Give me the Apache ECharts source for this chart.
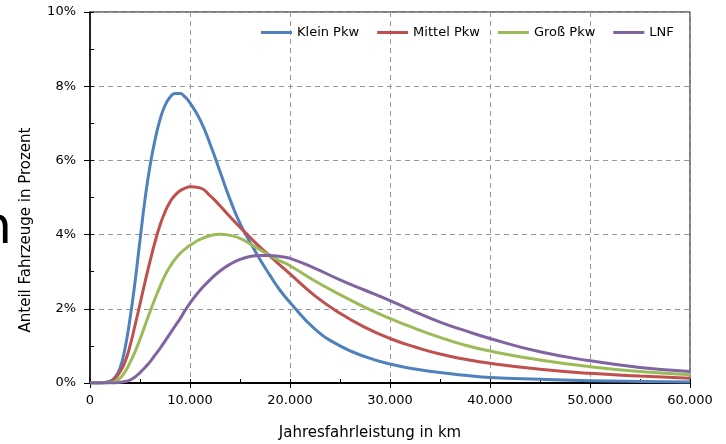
<!DOCTYPE html>
<html>
<head>
<meta charset="utf-8">
<script src="https://cdn.jsdelivr.net/npm/echarts@6/dist/echarts.min.js"></script>
<style>
  html, body { margin: 0; padding: 0; background: #fff; }
  #chart { width: 726px; height: 444px; }
</style>
</head>
<body>
<div id="chart"></div>
<script>
// Jahresfahrleistung in km (x positions of the read-off points)
const km = [0, 1000, 2000, 2500, 3000, 3500, 4000, 4500, 5000, 5500, 6000, 6500, 7000, 7500, 8000, 8500, 9000, 9500, 10000,
  11000, 12000, 13000, 14000, 15000, 16000, 17000, 18000, 19000, 20000, 22500, 25000, 27500, 30000, 32500, 35000, 37500,
  40000, 45000, 50000, 55000, 60000];

// Anteil in Prozent
const kleinPkw = [0, 0, 0.05, 0.15, 0.4, 0.93, 1.73, 2.72, 3.85, 4.95, 5.85, 6.55, 7.1, 7.48, 7.7, 7.8, 7.8, 7.71, 7.55,
  7.1, 6.45, 5.7, 4.95, 4.3, 3.8, 3.33, 2.9, 2.5, 2.17, 1.45, 1.0, 0.71, 0.51, 0.38, 0.28, 0.21,
  0.15, 0.1, 0.06, 0.04, 0.03];
const mittelPkw = [0, 0, 0.02, 0.12, 0.3, 0.57, 1.0, 1.55, 2.13, 2.72, 3.28, 3.8, 4.25, 4.61, 4.88, 5.06, 5.18, 5.25, 5.29,
  5.26, 5.05, 4.78, 4.48, 4.2, 3.93, 3.66, 3.42, 3.18, 2.94, 2.35, 1.88, 1.5, 1.2, 0.97, 0.78, 0.64,
  0.53, 0.37, 0.26, 0.19, 0.13];
const grossPkw = [0, 0, 0.01, 0.04, 0.13, 0.3, 0.55, 0.84, 1.18, 1.55, 1.92, 2.27, 2.6, 2.9, 3.14, 3.33, 3.49, 3.61, 3.71,
  3.87, 3.97, 4.01, 3.98, 3.9, 3.75, 3.59, 3.43, 3.29, 3.16, 2.75, 2.38, 2.04, 1.74, 1.47, 1.23, 1.02,
  0.86, 0.62, 0.44, 0.31, 0.22];
const lnf = [0, 0, 0, 0, 0.02, 0.04, 0.08, 0.16, 0.28, 0.42, 0.57, 0.75, 0.93, 1.13, 1.33, 1.53, 1.73, 1.95, 2.15,
  2.5, 2.78, 3.02, 3.2, 3.33, 3.41, 3.44, 3.44, 3.41, 3.36, 3.09, 2.78, 2.5, 2.22, 1.92, 1.64, 1.41,
  1.2, 0.84, 0.6, 0.42, 0.31];

const seriesNames = ['Klein Pkw', 'Mittel Pkw', 'Groß Pkw', 'LNF'];
const colors = ['#4f81bd', '#c0504d', '#9bbb59', '#8064a2'];

const font = 'DejaVu Sans';

function toPairs(values) {
  return km.map((x, i) => [x, values[i]]);
}

function formatKm(v) {
  return String(v).replace(/\B(?=(\d{3})+(?!\d))/g, '.');
}

const chart = echarts.init(document.getElementById('chart'));

const option = {
  animation: false,
  color: colors,
  grid: {
    left: 90,
    right: 36,
    top: 12,
    bottom: 61,
    show: true,
    borderColor: '#000',
    borderWidth: 1,
    backgroundColor: 'transparent'
  },
  legend: {
    data: seriesNames,
    left: 256,
    top: 21,
    icon: 'rect',
    itemWidth: 31,
    itemHeight: 3,
    itemGap: 18,
    textStyle: { fontFamily: font, fontSize: 13, color: '#000' }
  },
  xAxis: [
    {
      type: 'value',
      position: 'bottom',
      min: 0,
      max: 60000,
      interval: 10000,
      axisLine: { onZero: false, lineStyle: { color: '#000', width: 2 } },
      axisTick: { show: true, length: 5, lineStyle: { color: '#000', width: 1 } },
      axisLabel: {
        fontFamily: font, fontSize: 13, color: '#000', margin: 11,
        formatter: formatKm
      },
      splitLine: { show: true, lineStyle: { color: '#999', type: [5, 4], width: 1 } }
    },
    {
      // inner tick marks every 5.000 km
      type: 'value',
      position: 'bottom',
      min: 0,
      max: 60000,
      interval: 5000,
      axisLine: { show: false },
      axisTick: { show: true, inside: true, length: 4, lineStyle: { color: '#000', width: 1 } },
      axisLabel: { show: false },
      splitLine: { show: false }
    }
  ],
  yAxis: [
    {
      type: 'value',
      position: 'left',
      min: 0,
      max: 10,
      interval: 2,
      axisLine: { show: true, lineStyle: { color: '#000', width: 1.5 } },
      axisTick: { show: true, length: 6, lineStyle: { color: '#000', width: 1 } },
      axisLabel: {
        fontFamily: font, fontSize: 13, color: '#000', margin: 14,
        formatter: v => v + '%'
      },
      splitLine: { show: true, lineStyle: { color: '#999', type: [5, 4], width: 1 } }
    },
    {
      // inner tick marks every 1 %
      type: 'value',
      position: 'left',
      min: 0,
      max: 10,
      interval: 1,
      axisLine: { show: false },
      axisTick: { show: true, inside: true, length: 4, lineStyle: { color: '#000', width: 1 } },
      axisLabel: { show: false },
      splitLine: { show: false }
    }
  ],
  series: [kleinPkw, mittelPkw, grossPkw, lnf].map((vals, i) => ({
    name: seriesNames[i],
    type: 'line',
    xAxisIndex: 0,
    yAxisIndex: 0,
    data: toPairs(vals),
    smooth: 0.5,
    showSymbol: false,
    symbol: 'none',
    lineStyle: { width: 3, color: colors[i] },
    itemStyle: { color: colors[i] }
  })),
  graphic: [
    {
      type: 'text',
      x: 26,
      y: 230,
      rotation: Math.PI / 2,
      style: {
        text: 'Anteil Fahrzeuge in Prozent',
        fontFamily: font,
        fontSize: 15,
        fill: '#000',
        textAlign: 'center',
        textVerticalAlign: 'middle'
      }
    },
    {
      type: 'text',
      x: 370,
      y: 433,
      style: {
        text: 'Jahresfahrleistung in km',
        fontFamily: font,
        fontSize: 15,
        fill: '#000',
        textAlign: 'center',
        textVerticalAlign: 'middle'
      }
    },
    {
      // cut-off glyph at the left edge of the picture
      type: 'text',
      x: -21,
      y: 229,
      style: {
        text: 'n',
        fontFamily: font,
        fontSize: 52,
        fill: '#000',
        textAlign: 'left',
        textVerticalAlign: 'middle'
      }
    }
  ]
};

chart.setOption(option);
</script>
</body>
</html>
